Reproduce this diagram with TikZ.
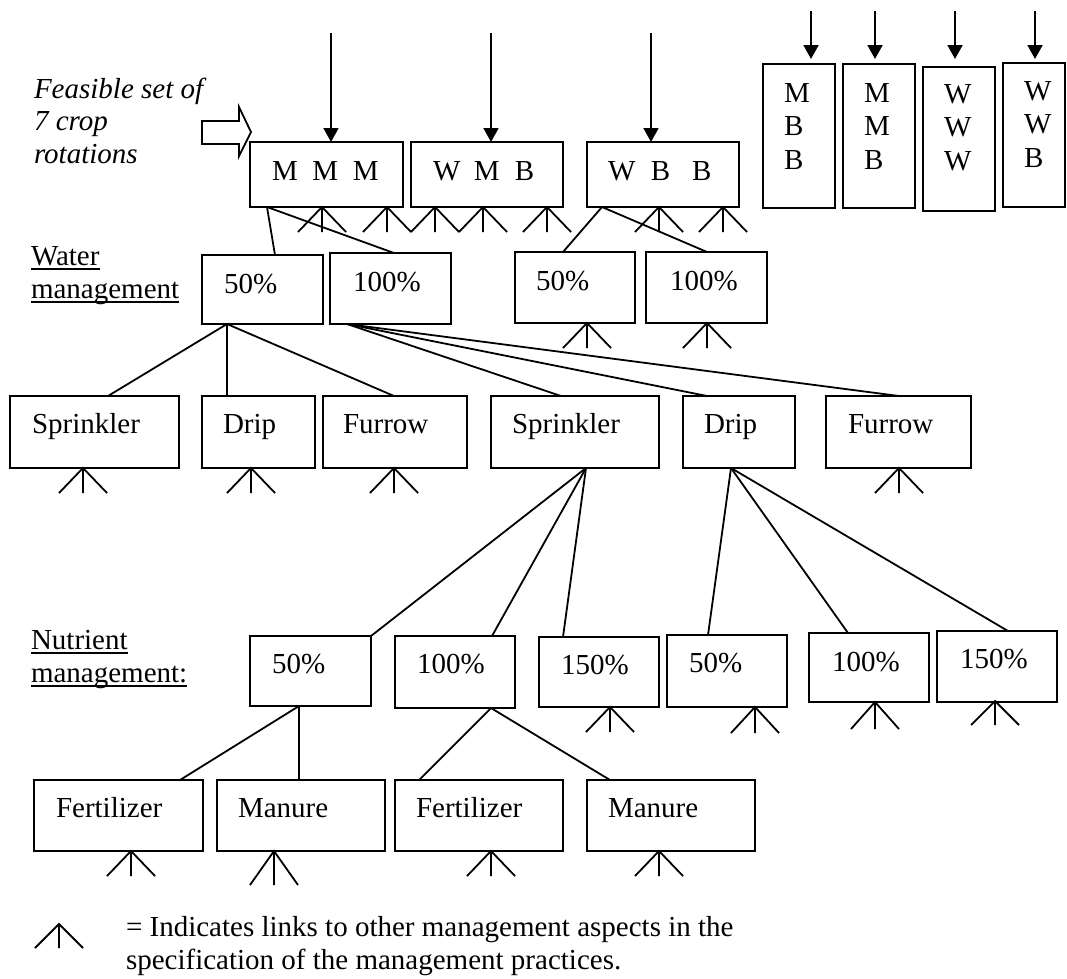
\documentclass[tikz,border=0pt]{standalone}
\usepackage{fontspec}
\setmainfont{Liberation Serif}
\usetikzlibrary{arrows.meta}
\tikzset{
  bx/.style={draw, line width=1.8pt, rectangle, inner sep=0pt, outer sep=0pt},
  tx/.style={inner sep=0pt, outer sep=0pt, anchor=base west, font=\fontsize{29}{34}\selectfont},
  ln/.style={line width=1.8pt},
  arr/.style={line width=1.8pt, -{Triangle[width=15pt,length=14pt]}},
  pics/lnk/.style={code={\draw[ln, line join=miter] (-24,#1) -- (0,0) -- (24,#1) (0,0) -- (0,#1);}},
  pics/lnk/.default=25,
}
\newcommand\mkbox[5]{\node[bx, minimum width={(#4-#2)*1pt}, minimum height={(#5-#3)*1pt}] (#1) at ({(#2+#4)/2},{(#3+#5)/2}) {};}
\newcommand\mktext[4]{\node[tx] (#1) at (#2,#3) {#4};}
\newcommand\threeup[3]{\vtop{\baselineskip=33.5pt\hbox{#1}\hbox{#2}\hbox{#3}}}
\begin{document}
\begin{tikzpicture}[x=1pt,y=-1pt]
\useasboundingbox (0,0) rectangle (1067,978);

% ---- left labels ----
\node[tx, font=\fontsize{29}{34}\selectfont\itshape] (fs1) at (34,98) {Feasible set of};
\node[tx, font=\fontsize{29}{34}\selectfont\itshape] (fs2) at (34,130) {7 crop};
\node[tx, font=\fontsize{29}{34}\selectfont\itshape] (fs3) at (34,163) {rotations};
\draw[ln, line join=miter] (202,121) -- (239,121) -- (239,107) -- (251,132) -- (239,156) -- (239,144) -- (202,144) -- cycle;

\mktext{wl1}{31}{265}{Water}
\mktext{wl2}{31}{298}{management}
\draw[line width=1.3pt] ([yshift=-4pt]wl1.base west) -- ([yshift=-4pt]wl1.base east);
\draw[line width=1.3pt] ([yshift=-4pt]wl2.base west) -- ([yshift=-4pt]wl2.base east);
\mktext{nl1}{31}{649}{Nutrient}
\mktext{nl2}{31}{682}{management:}
\draw[line width=1.3pt] ([yshift=-4pt]nl1.base west) -- ([yshift=-4pt]nl1.base east);
\draw[line width=1.3pt] ([yshift=-4pt]nl2.base west) -- ([yshift=-4pt]nl2.base east);

% ---- row 1: rotations ----
\mkbox{mmm}{250}{142}{403}{207}
\mktext{mmmT}{272}{180}{M\hspace{14.7pt}M\hspace{14.7pt}M}
\mkbox{wmb}{411}{142}{563}{207}
\mktext{wmbT}{433}{180}{W\hspace{13.6pt}M\hspace{15.2pt}B}
\mkbox{wbb}{587}{142}{739}{207}
\mktext{wbbT}{608}{180}{W\hspace{15.6pt}B\hspace{21.7pt}B}

\mkbox{mbb}{763}{64}{835}{208}
\mktext{mbbT}{784}{102}{\threeup{M}{B}{B}}
\mkbox{mmb}{843}{64}{915}{208}
\mktext{mmbT}{864}{102}{\threeup{M}{M}{B}}
\mkbox{www}{923}{67}{995}{211}
\mktext{wwwT}{944}{103}{\threeup{W}{W}{W}}
\mkbox{wwb}{1003}{63}{1065}{207}
\mktext{wwbT}{1024}{100}{\threeup{W}{W}{B}}

% incoming arrows
\coordinate (a1) at (331,33);
\coordinate (a2) at (491,33);
\coordinate (a3) at (651,33);
\coordinate (a4) at (811,11);
\coordinate (a5) at (875,11);
\coordinate (a6) at (955,11);
\coordinate (a7) at (1035,11);
\draw[arr] (a1) -- (mmm.north -| a1);
\draw[arr] (a2) -- (wmb.north -| a2);
\draw[arr] (a3) -- (wbb.north -| a3);
\draw[arr, shorten >=5pt] (a4) -- (mbb.north -| a4);
\draw[arr, shorten >=5pt] (a5) -- (mmb.north -| a5);
\draw[arr, shorten >=8pt] (a6) -- (www.north -| a6);
\draw[arr, shorten >=4pt] (a7) -- (wwb.north -| a7);

% ---- row 2: water management ----
\mkbox{wa}{202}{255}{323}{324}
\mktext{waT}{224}{293}{50\%}
\mkbox{wb}{330}{253}{451}{324}
\mktext{wbT}{353}{291}{100\%}
\mkbox{wc}{515}{252}{635}{323}
\mktext{wcT}{536}{290}{50\%}
\mkbox{wd}{646}{252}{767}{323}
\mktext{wdT}{670}{290}{100\%}

\draw[ln] ([xshift=17pt]mmm.south west) -- ([xshift=73pt]wa.north west);
\draw[ln] ([xshift=17pt]mmm.south west) -- ([xshift=64pt]wb.north west);
\draw[ln] ([xshift=15pt]wbb.south west) -- ([xshift=48pt]wc.north west);
\draw[ln] ([xshift=15pt]wbb.south west) -- ([xshift=61pt]wd.north west);

% ---- row 3: irrigation ----
\mkbox{ia}{10}{396}{179}{468}
\mktext{iaT}{32}{433}{Sprinkler}
\mkbox{ib}{202}{396}{315}{468}
\mktext{ibT}{223}{433}{Drip}
\mkbox{ic}{323}{396}{467}{468}
\mktext{icT}{343}{433}{Furrow}
\mkbox{id}{491}{396}{659}{468}
\mktext{idT}{512}{433}{Sprinkler}
\mkbox{ie}{683}{396}{795}{468}
\mktext{ieT}{704}{433}{Drip}
\mkbox{if}{826}{396}{971}{468}
\mktext{ifT}{848}{433}{Furrow}

\draw[ln] ([xshift=25pt]wa.south west) -- ([xshift=98pt]ia.north west);
\draw[ln] ([xshift=25pt]wa.south west) -- ([xshift=25pt]ib.north west);
\draw[ln] ([xshift=25pt]wa.south west) -- ([xshift=71pt]ic.north west);
\draw[ln] ([xshift=17pt]wb.south west) -- ([xshift=70pt]id.north west);
\draw[ln] ([xshift=17pt]wb.south west) -- ([xshift=24pt]ie.north west);
\draw[ln] ([xshift=17pt]wb.south west) -- ([xshift=73pt]if.north west);

% ---- row 4: nutrient management ----
\mkbox{na}{250}{636}{371}{706}
\mktext{naT}{272}{673}{50\%}
\mkbox{nb}{395}{636}{515}{708}
\mktext{nbT}{417}{673}{100\%}
\mkbox{nc}{539}{637}{659}{707}
\mktext{ncT}{561}{674}{150\%}
\mkbox{nd}{667}{635}{787}{707}
\mktext{ndT}{689}{672}{50\%}
\mkbox{ne}{809}{633}{929}{702}
\mktext{neT}{832}{671}{100\%}
\mkbox{nf}{937}{631}{1057}{702}
\mktext{nfT}{960}{668}{150\%}

\draw[ln] ([xshift=95pt]id.south west) -- (na.north east);
\draw[ln] ([xshift=95pt]id.south west) -- ([xshift=97pt]nb.north west);
\draw[ln] ([xshift=95pt]id.south west) -- ([xshift=24pt]nc.north west);
\draw[ln] ([xshift=48pt]ie.south west) -- ([xshift=41pt]nd.north west);
\draw[ln] ([xshift=48pt]ie.south west) -- ([xshift=39pt]ne.north west);
\draw[ln] ([xshift=48pt]ie.south west) -- ([xshift=71pt]nf.north west);

% ---- row 5: source ----
\mkbox{fa}{34}{780}{203}{851}
\mktext{faT}{56}{817}{Fertilizer}
\mkbox{ma}{217}{780}{385}{851}
\mktext{maT}{238}{817}{Manure}
\mkbox{fb}{395}{780}{563}{851}
\mktext{fbT}{416}{817}{Fertilizer}
\mkbox{mb}{587}{780}{755}{851}
\mktext{mbT}{608}{817}{Manure}

\draw[ln] ([xshift=49pt]na.south west) -- ([xshift=146pt]fa.north west);
\draw[ln] ([xshift=49pt]na.south west) -- ([xshift=82pt]ma.north west);
\draw[ln] ([xshift=96pt]nb.south west) -- ([xshift=24pt]fb.north west);
\draw[ln] ([xshift=96pt]nb.south west) -- ([xshift=23pt]mb.north west);

% ---- link symbols ----
\foreach \x in {322,387,435,483,547,659,723} {\pic at (\x,207) {lnk};}
\pic at (587,323) {lnk};
\pic at (707,323) {lnk};
\foreach \x in {83,251,394,899} {\pic at (\x,468) {lnk};}
\pic at (610,707) {lnk};
\pic at (755,707) {lnk=26};
\pic at (875,702) {lnk=27};
\pic at (995,701) {lnk=24};
\pic at (131,851) {lnk};
\pic at (274,851) {lnk=34};
\pic at (491,851) {lnk};
\pic at (659,851) {lnk};

% ---- legend ----
\pic at (59,924) {lnk=24};
\mktext{lg1}{126}{936}{= Indicates links to other management aspects in the}
\mktext{lg2}{126}{969}{specification of the management practices.}
\end{tikzpicture}
\end{document}
